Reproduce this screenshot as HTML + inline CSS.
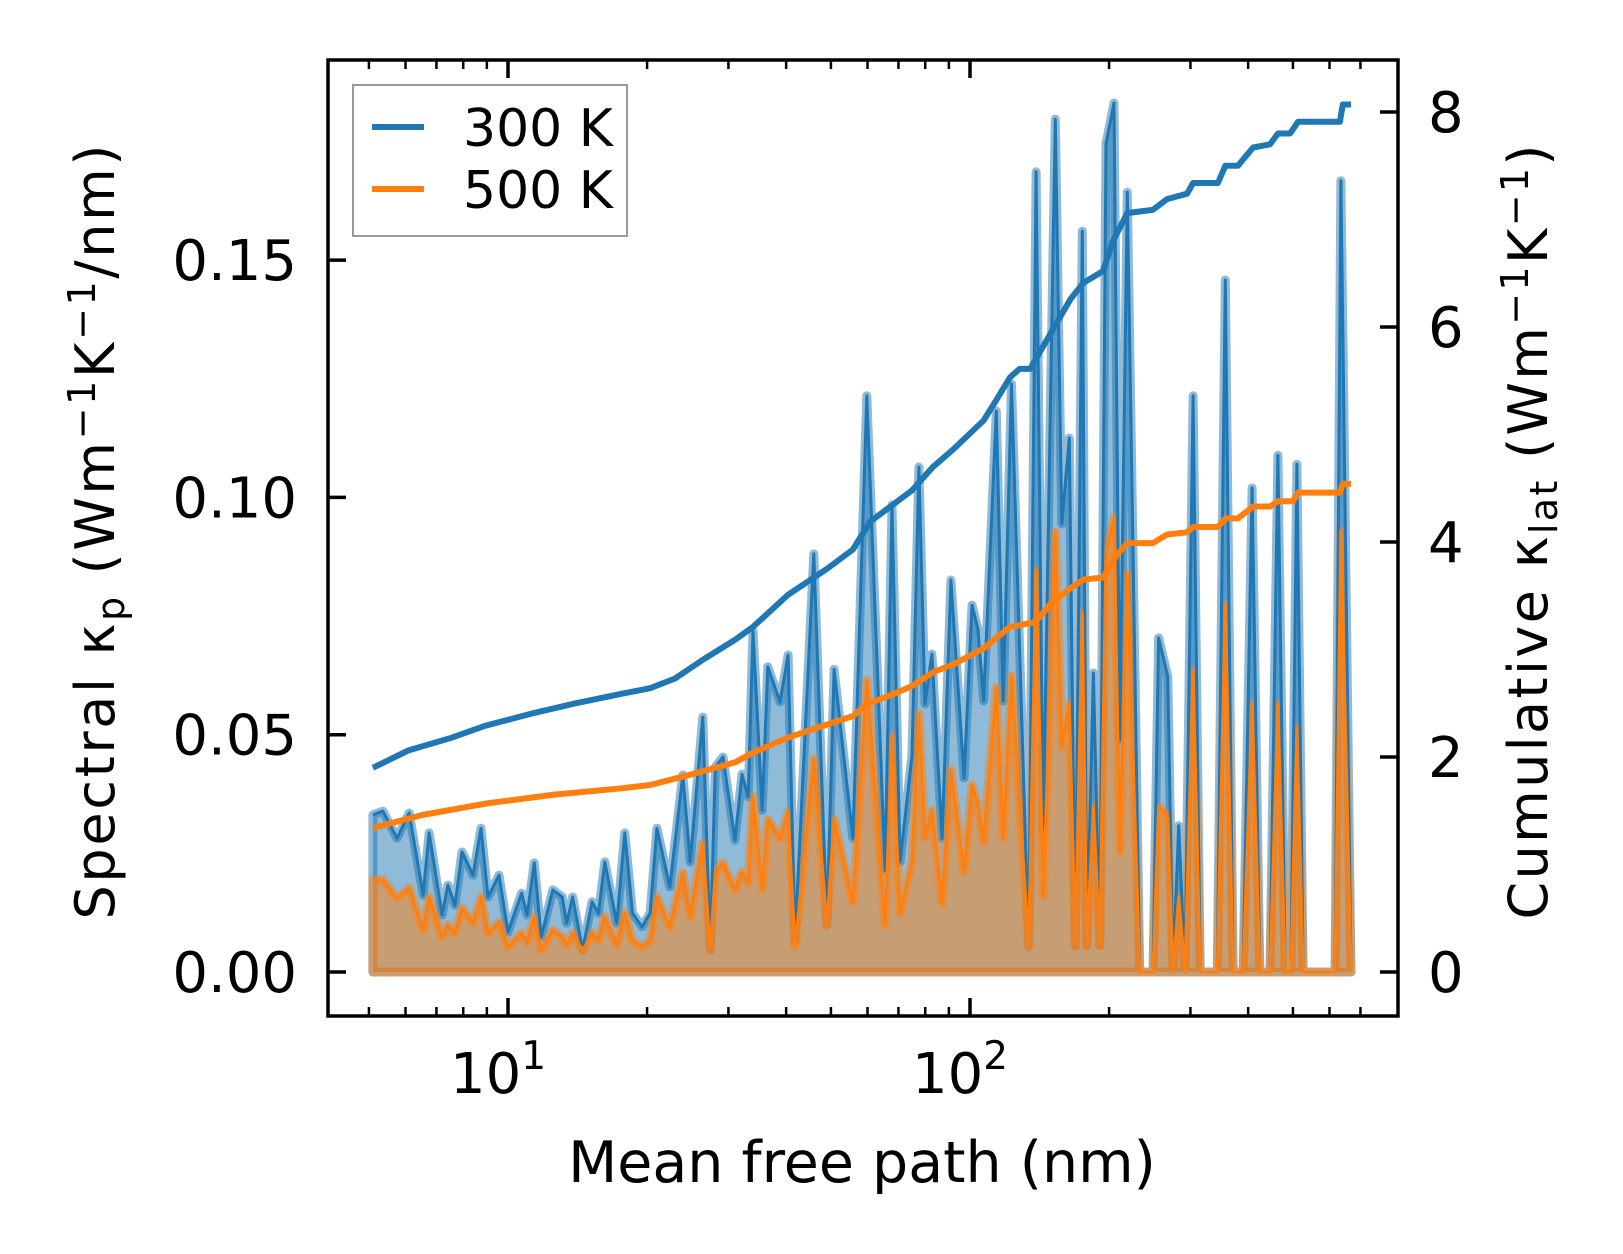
<!DOCTYPE html>
<html><head><meta charset="utf-8"><style>
html,body{margin:0;padding:0;background:#fff;}
svg{display:block;font-family:"DejaVu Sans","Liberation Sans",sans-serif;}
</style></head><body>
<svg id="chart" width="1623" height="1254" viewBox="0 0 1623 1254" xmlns="http://www.w3.org/2000/svg">
<rect x="0" y="0" width="1623" height="1254" fill="#fff"/>
<g id="marks"></g>
<g id="axes"></g>
<g>
<rect x="353" y="85" width="274" height="151" fill="#fff" fill-opacity="0.8" stroke="#999" stroke-width="2"/>
<line x1="372" y1="127" x2="424" y2="127" stroke="#1f77b4" stroke-width="6"/>
<text x="463" y="146" font-size="52">300 K</text>
<line x1="372" y1="189" x2="424" y2="189" stroke="#ff7f0e" stroke-width="6"/>
<text x="463" y="208" font-size="52">500 K</text>
</g>
<text x="862" y="1182" font-size="57" text-anchor="middle">Mean free path (nm)</text>
<text transform="translate(114,532) rotate(-90)" font-size="54" text-anchor="middle" textLength="775">Spectral κ<tspan font-size="38" dy="10">p</tspan><tspan dy="-10"> (Wm</tspan><tspan font-size="38" dy="-19">−1</tspan><tspan dy="19">K</tspan><tspan font-size="38" dy="-19">−1</tspan><tspan dy="19">/nm)</tspan></text>
<text transform="translate(1547,532) rotate(-90)" font-size="54" text-anchor="middle" textLength="775">Cumulative κ<tspan font-size="38" dy="10">lat</tspan><tspan dy="-10"> (Wm</tspan><tspan font-size="38" dy="-19">−1</tspan><tspan dy="19">K</tspan><tspan font-size="38" dy="-19">−1</tspan><tspan dy="19">)</tspan></text>
</svg>
<script>
const mfp = [5.10,5.36,5.75,6.11,6.55,6.75,7.20,7.41,7.68,7.95,8.40,8.74,9.05,9.56,10.0,10.7,11.0,11.4,11.8,12.5,13.1,13.4,13.8,14.5,15.2,15.7,16.2,17.2,17.9,18.6,19.5,20.3,21.0,22.4,23.9,24.8,26.4,27.4,28.1,29.2,31.0,32.1,33.1,33.9,35.5,36.5,38.8,40.4,41.8,45.9,49.0,50.8,55.8,59.8,65.5,67.8,70.6,74.9,77.5,79.9,82.7,87.0,90.9,97.1,101,104,107,114,118,123,134,139,144,153,158,164,169,175,179,185,191,197,205,211,219,233,249,256,268,275,283,292,304,315,343,357,371,390,408,424,446,464,481,495,510,526,617,635,668];
const spec300 = [.0331,.0339,.0282,.0335,.0162,.0293,.0120,.0183,.0141,.0253,.0204,.0303,.0158,.0204,.0084,.0166,.0120,.0230,.0074,.0173,.0158,.0103,.0158,.0046,.0148,.0124,.0232,.0103,.0293,.0124,.0095,.0124,.0303,.0179,.0415,.0232,.0537,.0046,.0432,.0453,.0278,.0417,.0369,.0718,.0341,.0643,.0569,.0668,.0067,.0881,.0099,.0638,.0282,.1214,.0215,.0984,.0232,.0457,.1064,.0565,.0670,.0282,.0826,.0409,.0773,.0723,.0571,.1182,.0571,.1239,.0053,.1686,.0301,.1797,.0944,.1125,.0055,.1561,.0055,.0630,.0055,.1745,.1831,.0489,.1643,0,0,.0704,.0622,0,.0308,0,.1214,0,0,.1458,0,0,.1020,0,0,.1089,0,0,.1070,0,0,.1667,0];
const spec500 = [.0194,.0194,.0156,.0177,.0088,.0158,.0074,.0099,.0082,.0135,.0103,.0158,.0082,.0105,.0053,.0082,.0063,.0116,.0046,.0088,.0074,.0057,.0082,.0046,.0082,.0067,.0116,.0057,.0124,.0067,.0053,.0067,.0158,.0095,.0209,.0116,.0272,.0046,.0209,.0230,.0173,.0211,.0188,.0369,.0175,.0322,.0282,.0337,.0053,.0449,.0099,.0322,.0147,.0615,.0099,.0497,.0124,.0234,.0544,.0282,.0341,.0143,.0426,.0211,.0394,.0354,.0274,.0600,.0282,.0624,.0053,.0845,.0160,.0927,.0476,.0565,.0055,.0756,.0055,.0348,.0055,.0885,.0957,.0255,.0839,0,0,.0348,.0331,0,.0160,0,.0634,0,0,.0775,0,0,.0565,0,0,.0565,0,0,.0516,0,0,.093,0];
const cumMfp300 = [5.10,6.08,7.56,8.92,11.4,14.0,17.7,20.3,23.0,26.3,31.0,33.9,40.4,49.0,55.8,60.8,67.8,74.9,83.2,91.9,107,114,122,128,135,149,165,176,194,204,219,249,267,295,304,344,357,380,410,446,464,493,513,632,641,668];
const cum300 = [1.90,2.06,2.18,2.29,2.41,2.50,2.59,2.64,2.73,2.90,3.09,3.21,3.51,3.75,3.93,4.19,4.34,4.48,4.70,4.86,5.13,5.32,5.53,5.61,5.61,5.93,6.26,6.41,6.52,6.80,7.06,7.09,7.19,7.24,7.34,7.34,7.50,7.50,7.67,7.70,7.80,7.80,7.91,7.91,8.07,8.07];
const cumMfp500 = [5.10,6.52,9.05,12.6,17.7,20.3,24.5,31.0,33.9,40.4,47.3,55.8,59.8,67.8,74.9,83.2,91.9,107,122,137,142,149,165,176,194,208,219,249,267,295,304,344,357,380,410,446,464,500,513,632,641,668];
const cum500 = [1.34,1.46,1.57,1.65,1.71,1.74,1.83,1.95,2.04,2.18,2.28,2.38,2.49,2.58,2.66,2.79,2.86,3.01,3.21,3.25,3.31,3.42,3.57,3.65,3.67,3.88,3.99,3.99,4.07,4.09,4.14,4.14,4.22,4.22,4.33,4.33,4.38,4.38,4.46,4.46,4.54,4.54];
const leftTicks = [0,0.05,0.10,0.15];
const leftTickLabels = ["0.00","0.05","0.10","0.15"];
const rightTicks = [0,2,4,6,8];
const rightTickLabels = ["0","2","4","6","8"];
const xMajor = [10,100];
const xMajorExp = ["1","2"];
const xMinor = [5,6,7,8,9,20,30,40,50,60,70,80,90,200,300,400,500,600,700];

const L=328,R=1398,T=60,B=1016;
function xs(v){return 508+462*(Math.log10(v)-1);}
function yl(v){return 972-v*4746;}
function yr(v){return 972-v*107.5;}
const NS="http://www.w3.org/2000/svg";
const marks=document.getElementById('marks');
const axes=document.getElementById('axes');
function mk(tag,attrs,parent){const e=document.createElementNS(NS,tag);for(const k in attrs)e.setAttribute(k,attrs[k]);parent.appendChild(e);return e;}
function linePts(xa,ya,yf){return xa.map((m,i)=>xs(m).toFixed(1)+','+yf(ya[i]).toFixed(1)).join(' ');}
function areaD(xa,ya){let d='M'+xs(xa[0]).toFixed(1)+','+yl(0);xa.forEach((m,i)=>{d+=' L'+xs(m).toFixed(1)+','+yl(ya[i]).toFixed(1);});d+=' L'+xs(xa[xa.length-1]).toFixed(1)+','+yl(0)+' Z';return d;}

const a300=mk('path',{d:areaD(mfp,spec300),fill:'#1f77b4','fill-opacity':0.5,stroke:'#1f77b4','stroke-opacity':0.5,'stroke-width':9,'stroke-linejoin':'round'},marks);


const a500=mk('path',{d:areaD(mfp,spec500),fill:'#ff7f0e','fill-opacity':0.5,stroke:'#ff7f0e','stroke-opacity':0.5,'stroke-width':9,'stroke-linejoin':'round'},marks);


const l300=mk('polyline',{points:linePts(mfp,spec300,yl),fill:'none',stroke:'#1f77b4','stroke-width':3,'stroke-linejoin':'round'},marks);


const l500=mk('polyline',{points:linePts(mfp,spec500,yl),fill:'none',stroke:'#ff7f0e','stroke-width':3,'stroke-linejoin':'round'},marks);


const c300=mk('polyline',{points:linePts(cumMfp300,cum300,yr),fill:'none',stroke:'#1f77b4','stroke-width':6,'stroke-linejoin':'round'},marks);


const c500=mk('polyline',{points:linePts(cumMfp500,cum500,yr),fill:'none',stroke:'#ff7f0e','stroke-width':6,'stroke-linejoin':'round'},marks);



const frame=mk('rect',{x:L,y:T,width:R-L,height:B-T,fill:'none',stroke:'#000','stroke-width':3.5},axes);


leftTicks.forEach((v,i)=>{
  const y=yl(v);
  const t=mk('line',{x1:L,y1:y,x2:L+18,y2:y,stroke:'#000','stroke-width':3.5},axes);
  
  
  const tx=mk('text',{x:297,y:y+20,'font-size':56,'text-anchor':'end'},axes);
  tx.textContent=leftTickLabels[i];
  
  
});
rightTicks.forEach((v,i)=>{
  const y=yr(v);
  const t=mk('line',{x1:R-18,y1:y,x2:R,y2:y,stroke:'#000','stroke-width':3.5},axes);
  
  
  const tx=mk('text',{x:1428,y:y+20,'font-size':56},axes);
  tx.textContent=rightTickLabels[i];
  
  
});
xMajor.forEach((v,i)=>{
  const x=xs(v);
  [[B,B-18],[T,T+18]].forEach(p=>{
    const t=mk('line',{x1:x,y1:p[0],x2:x,y2:p[1],stroke:'#000','stroke-width':3.5},axes);
    
    
  });
  const tx=mk('text',{x:x-10,y:1093,'font-size':56,'text-anchor':'middle'},axes);
  
  
  tx.appendChild(document.createTextNode('10'));
  const sp=document.createElementNS(NS,'tspan');
  sp.setAttribute('font-size','39');sp.setAttribute('dy','-24');
  sp.textContent=xMajorExp[i];
  tx.appendChild(sp);
});
xMinor.forEach(v=>{
  const x=xs(v);
  if(x<=L||x>=R)return;
  [[B,B-9],[T,T+9]].forEach(p=>{
    const t=mk('line',{x1:x,y1:p[0],x2:x,y2:p[1],stroke:'#000','stroke-width':2.5},axes);
    
    
  });
});
</script>
</body></html>
